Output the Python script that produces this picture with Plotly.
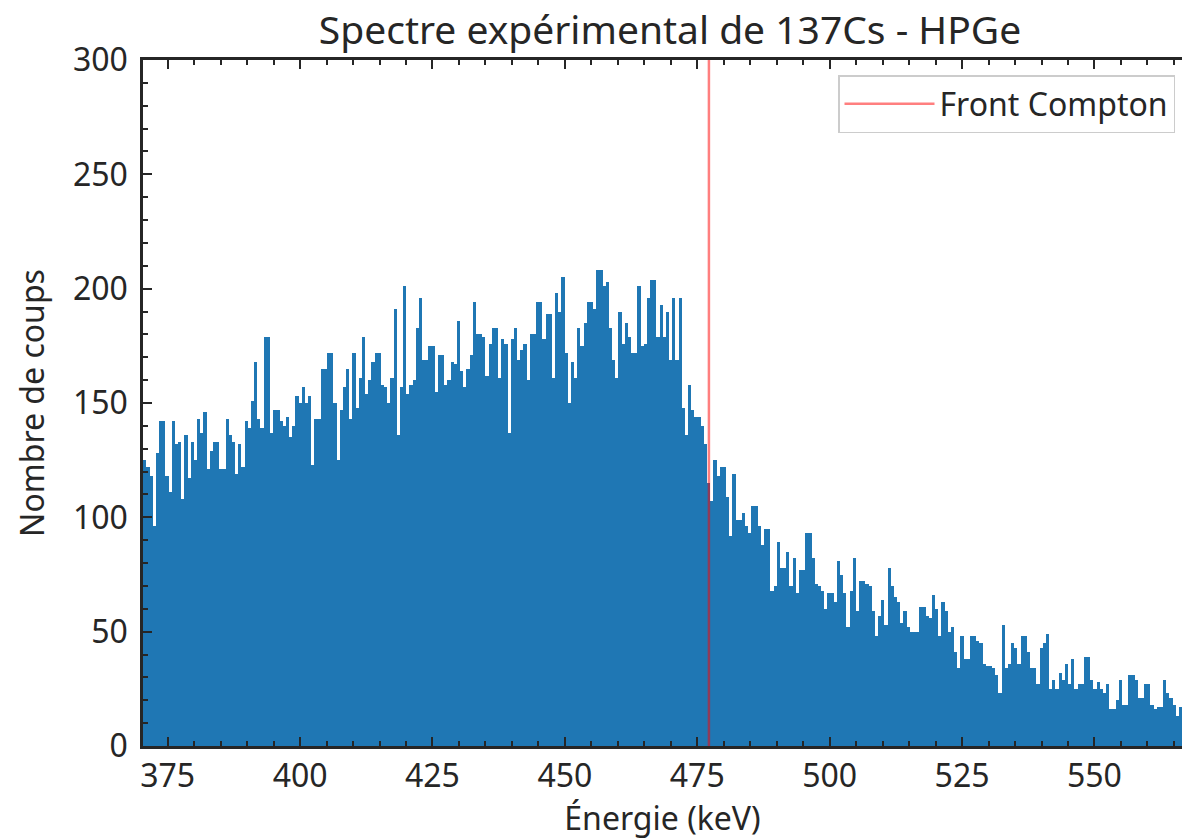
import plotly.graph_objects as go

# ---- data ----
bin_start_kev = 370.4      # left edge of first channel bin
bin_width_kev = 0.598      # channel width
compton_edge_kev = 477.2

counts = [
    125, 122, 118, 96, 128, 142, 142, 118, 111, 142, 132, 133, 108, 136, 117, 133, 125, 143, 137, 146,
    121, 129, 133, 133, 121, 121, 143, 136, 133, 119, 132, 122, 142, 139, 151, 168, 143, 139, 179, 179,
    137, 147, 147, 142, 140, 144, 135, 140, 153, 150, 157, 150, 153, 123, 143, 143, 165, 165, 172, 172,
    150, 125,
    147, 157, 165, 143, 172, 148, 161, 179, 154, 160, 168, 172, 172, 158, 157, 150, 161, 191, 136, 157,
    201, 154, 158, 160, 183, 196, 169, 169, 175, 175, 155, 171, 171, 158, 160, 168, 167, 186, 164, 157,
    165, 171, 194, 180, 180, 179, 162, 176, 183, 183, 161, 178, 176, 137, 178, 183, 169, 173, 176, 160,
    180, 180, 194, 194, 178, 189, 189, 161, 198, 190, 205, 172, 150, 168, 161, 183, 175, 185, 194, 194,
    191, 208, 208, 201, 203, 183, 169, 161, 190, 176, 185, 179, 172, 172, 201, 175, 176, 196, 204, 204,
    179, 193, 179, 190, 169, 196, 169, 196, 148, 136, 158, 147, 144, 144, 140, 132, 115, 107,
    125, 118, 122, 122, 109, 92, 119, 99, 99, 102, 96, 93, 105, 105, 96, 88, 95, 95, 68, 70,
    89, 78, 78, 85, 70, 82, 67, 77, 77, 93, 93, 82, 71, 70, 68, 60, 67, 67, 63, 81,
    75, 67, 52, 68, 82, 59, 72, 72, 71, 70, 59, 48, 57, 64, 53, 78, 70, 65, 63,
    54, 59, 52, 50, 50, 50, 61, 61, 57, 56, 66, 60, 48, 63, 59, 50, 52, 41, 34, 48,
    38, 38, 48, 48, 46, 45, 36, 35, 35, 34, 31, 23, 53, 34, 36, 45, 43, 36, 48, 48, 41,
    34, 34, 27, 43, 45, 49, 25, 29, 25, 32, 29, 36, 27, 38, 25, 27, 27, 39, 39, 29,
    25, 28, 25, 23, 27, 16, 16, 20, 29, 18, 18, 31, 31, 29, 21, 21, 27, 27, 18, 16,
    17, 17, 29, 23, 21, 18, 13, 17, 16,
]

x_ticks = [375, 400, 425, 450, 475, 500, 525, 550]
y_ticks = [0, 50, 100, 150, 200, 250, 300]

title_text = "Spectre expérimental de 137Cs - HPGe"
x_label = "Énergie (keV)"
y_label = "Nombre de coups"
legend_label = "Front Compton"

# bin centres from the channel calibration
energies = [bin_start_kev + bin_width_kev * (i + 0.5) for i in range(len(counts))]

FONT = "Noto Sans"
DARK = "#262626"

fig = go.Figure()
fig.add_trace(go.Bar(
    x=energies, y=counts, width=bin_width_kev,
    marker=dict(color="#1f77b4", line=dict(width=0)),
    showlegend=False, hoverinfo="x+y",
))
fig.add_trace(go.Scatter(
    x=[compton_edge_kev, compton_edge_kev], y=[0, 300],
    mode="lines", name=legend_label,
    line=dict(color="rgba(255,0,0,0.5)", width=2.5),
))

axis_common = dict(
    showline=True, linewidth=2.5, linecolor=DARK,
    ticks="inside", ticklen=9, tickwidth=2, tickcolor=DARK,
    showgrid=False, zeroline=False,
    tickfont=dict(family=FONT, size=32, color=DARK),
)

fig.update_layout(
    width=1182, height=839,
    margin=dict(l=143, r=0, t=60, b=93),
    paper_bgcolor="white", plot_bgcolor="white",
    bargap=0,
    font=dict(family=FONT, color=DARK),
    title=dict(text=title_text, font=dict(family=FONT, size=39, color=DARK),
               xref="container", x=670 / 1182, xanchor="center",
               yref="container", y=1 - 30 / 839, yanchor="middle"),
    xaxis=dict(axis_common, range=[370.34, 566.53], tickvals=x_ticks, mirror="ticks",
               minor=dict(ticks="inside", ticklen=5, tickwidth=1.5, tickcolor=DARK, dtick=5, tick0=375),
               title=dict(text=x_label, font=dict(family=FONT, size=32, color=DARK), standoff=8)),
    yaxis=dict(axis_common, range=[0, 300], tickvals=y_ticks, mirror=False,
               ticklabelstandoff=6,
               minor=dict(ticks="inside", ticklen=5, tickwidth=1.5, tickcolor=DARK, dtick=10, tick0=0),
               title=dict(text=y_label, font=dict(family=FONT, size=32, color=DARK), standoff=19)),
    legend=dict(x=(838 - 143) / 1039, y=(746 - 75) / 686, xanchor="left", yanchor="top",
                bgcolor="rgba(255,255,255,0.8)", bordercolor="#cccccc", borderwidth=1.5,
                font=dict(family=FONT, size=32, color=DARK), itemwidth=90),
)

fig.write_html("out.html")
